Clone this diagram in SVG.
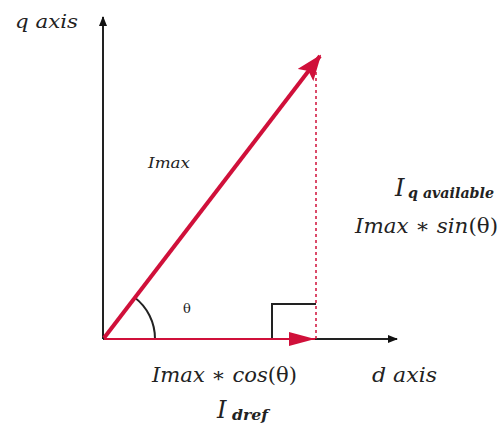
<svg xmlns="http://www.w3.org/2000/svg" width="500" height="427" viewBox="0 0 500 427">
<defs>
<style>
.t{font-family:"DejaVu Serif","Liberation Serif",serif;font-style:italic;fill:#222}
.up{font-style:normal}
.ax{stroke:#222;stroke-width:2;fill:none}
.red{stroke:#d0103a;fill:none}
</style>
<marker id="ak" markerWidth="10" markerHeight="8" refX="9" refY="4" orient="auto" markerUnits="userSpaceOnUse"><path d="M0,0 L10,4 L0,8 z" fill="#111"/></marker>
<marker id="ar" markerWidth="26" markerHeight="20" refX="24" refY="10" orient="auto" markerUnits="userSpaceOnUse"><path d="M0,0 L26,10 L0,20 L5,10 z" fill="#d0103a"/></marker>
<marker id="ar2" markerWidth="26" markerHeight="14" refX="26" refY="7" orient="auto" markerUnits="userSpaceOnUse"><path d="M0,0 L26,7 L0,14 z" fill="#d0103a"/></marker>
</defs>
<rect width="500" height="427" fill="#fff"/>
<g id="connectors">
<line class="ax" x1="103" y1="339" x2="103" y2="17" marker-end="url(#ak)"/>
<line class="ax" x1="103" y1="339" x2="397" y2="339" marker-end="url(#ak)"/>
<path class="ax" d="M272,339 V304 H316" stroke-width="1.6"/>
<path class="ax" d="M155,339 A52,52 0 0 0 134,297" stroke-width="1.6"/>
<line class="red" x1="316" y1="60" x2="316" y2="339" stroke-width="1.5" stroke-dasharray="3,3"/>
<line class="red" x1="104" y1="339" x2="315" y2="339" stroke-width="2" marker-end="url(#ar2)"/>
<line class="red" x1="104" y1="338" x2="320" y2="56" stroke-width="4" marker-end="url(#ar)"/>
</g>
<g id="labels">
<text class="t" x="15" y="28" font-size="18" textLength="63" lengthAdjust="spacingAndGlyphs">q axis</text>
<text class="t" x="148" y="168" font-size="15" textLength="42" lengthAdjust="spacingAndGlyphs">Imax</text>
<text class="t up" x="183" y="313" font-size="13">θ</text>
<text class="t" x="395" y="196" font-size="24">I</text>
<text class="t" x="408" y="198" font-size="14" font-weight="bold" textLength="86" lengthAdjust="spacingAndGlyphs">q available</text>
<text class="t" x="355" y="233" font-size="20.5" textLength="143" lengthAdjust="spacingAndGlyphs">Imax ∗ sin<tspan class="up">(θ)</tspan></text>
<text class="t" x="152" y="382" font-size="20.5" textLength="145" lengthAdjust="spacingAndGlyphs">Imax ∗ cos<tspan class="up">(θ)</tspan></text>
<text class="t" x="372" y="382" font-size="20.5" textLength="65" lengthAdjust="spacingAndGlyphs">d axis</text>
<text class="t" x="217" y="418" font-size="24">I</text>
<text class="t" x="232" y="420" font-size="14" font-weight="bold" textLength="36" lengthAdjust="spacingAndGlyphs">dref</text>
</g>
</svg>
